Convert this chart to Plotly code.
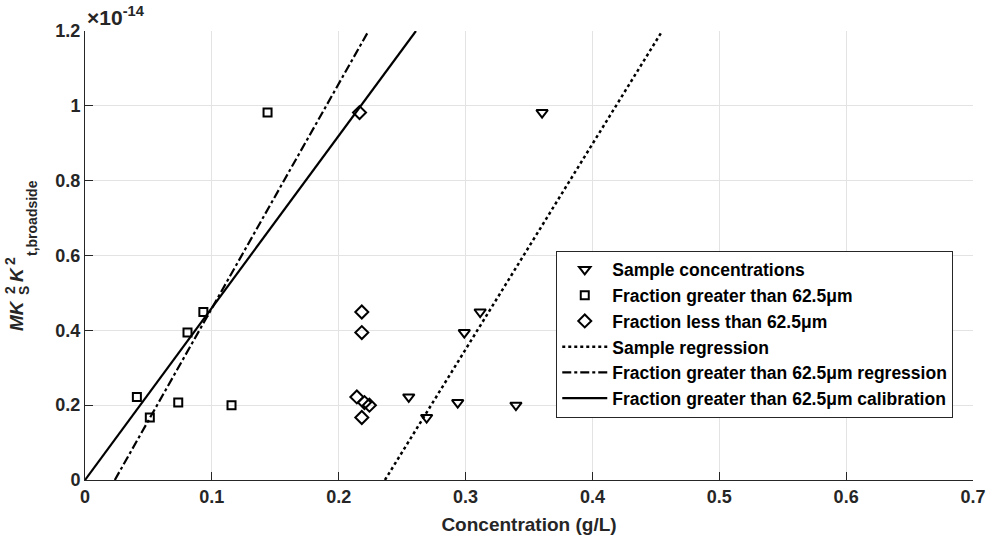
import numpy as np
import plotly.graph_objects as go

# Backscatter term M*Ks^2*Kt,broadside^2, in units of 1e-14
frac_gt_conc = [0.0409, 0.0511, 0.0735, 0.0808, 0.0933, 0.1155, 0.1439]
frac_lt_conc = [0.2143, 0.2182, 0.2203, 0.2182, 0.2182, 0.2242, 0.2164]
sample_conc = [0.2552, 0.2693, 0.2938, 0.2990, 0.3115, 0.3397, 0.3603]
mk_values = [0.222, 0.167, 0.207, 0.394, 0.449, 0.200, 0.982]
mk_values_lt = [0.222, 0.167, 0.207, 0.394, 0.449, 0.200, 0.982]
mk_values_sample = [0.222, 0.167, 0.207, 0.394, 0.449, 0.200, 0.982]

# Straight-line fits: y = slope * x + intercept (y in units of 1e-14)
fit_names = ["Sample regression",
             "Fraction greater than 62.5\u03bcm regression",
             "Fraction greater than 62.5\u03bcm calibration"]
fit_slopes = [5.49, 6.00, 4.60]
fit_intercepts = [-1.298, -0.141, 0.0]
fit_dashes = ["dot", "dashdot", "solid"]

x_ticks = [0, 0.1, 0.2, 0.3, 0.4, 0.5, 0.6, 0.7]
y_ticks = [0, 0.2, 0.4, 0.6, 0.8, 1.0, 1.2]
y_tick_text = ["0", "0.2", "0.4", "0.6", "0.8", "1", "1.2"]
X_RANGE = [0, 0.7]
Y_RANGE = [0, 1.2]

FONT = "Liberation Sans, Arial, sans-serif"
INK = "#000000"
AXIS_INK = "#262626"

fig = go.Figure()

marker_line = dict(color=INK, width=2)
fig.add_trace(go.Scatter(
    x=sample_conc, y=mk_values_sample, mode="markers", name="Sample concentrations",
    marker=dict(symbol="triangle-down-open", size=10, color=INK, line=marker_line)))
fig.add_trace(go.Scatter(
    x=frac_gt_conc, y=mk_values, mode="markers", name="Fraction greater than 62.5\u03bcm",
    marker=dict(symbol="square-open", size=8, color=INK, line=marker_line)))
fig.add_trace(go.Scatter(
    x=frac_lt_conc, y=mk_values_lt, mode="markers", name="Fraction less than 62.5\u03bcm",
    marker=dict(symbol="diamond-open", size=10, color=INK, line=marker_line)))

# each fit line is drawn where it lies inside the plotted window
for name, m, b, dash in zip(fit_names, fit_slopes, fit_intercepts, fit_dashes):
    x0 = max(X_RANGE[0], (Y_RANGE[0] - b) / m)
    x1 = min(X_RANGE[1], (Y_RANGE[1] - b) / m)
    xs = np.array([x0, x1])
    fig.add_trace(go.Scatter(
        x=xs, y=m * xs + b, mode="lines", name=name,
        line=dict(color=INK, width=2.5 if dash == "dot" else 2.2, dash=dash)))

axis_common = dict(
    showgrid=True, gridcolor="#e3e3e3", gridwidth=1,
    showline=True, linecolor=AXIS_INK, linewidth=1,
    ticks="inside", ticklen=8, tickcolor=AXIS_INK,
    zeroline=False, mirror=False,
    tickfont=dict(family=FONT, size=18, color=AXIS_INK, weight="bold"),
)

fig.update_layout(
    width=998, height=544,
    margin=dict(l=85, r=18, t=31, b=63),
    paper_bgcolor="white", plot_bgcolor="white",
    font=dict(family=FONT, color=AXIS_INK),
    showlegend=True,
    legend=dict(
        x=0.5307, y=0.511, xanchor="left", yanchor="top",
        bgcolor="white", bordercolor=AXIS_INK, borderwidth=1,
        font=dict(family=FONT, size=17.5, color="#000000", weight="bold"),
        tracegroupgap=0, itemwidth=45,
    ),
    xaxis=dict(
        range=X_RANGE, tickvals=x_ticks, ticktext=[f"{v:g}" for v in x_ticks],
        title=dict(text="Concentration (g/L)", standoff=12,
                   font=dict(family=FONT, size=19, color=AXIS_INK, weight="bold")),
        **axis_common),
    yaxis=dict(range=Y_RANGE, tickvals=y_ticks, ticktext=y_tick_text, **axis_common),
)

# y-axis title with stacked super/subscripts, built from rotated pieces
def label_piece(text, px_x, px_y, size, italic=False):
    fig.add_annotation(
        xref="paper", yref="paper", x=0, y=0,
        xshift=px_x - 85, yshift=481 - px_y,
        xanchor="center", yanchor="middle",
        text=f"<i>{text}</i>" if italic else text,
        textangle=-90, showarrow=False,
        font=dict(family=FONT, size=size, color=AXIS_INK, weight="bold"))

label_piece("MK", 16, 317, 19, italic=True)
label_piece("2", 10, 291, 14)
label_piece("S", 24, 292, 14)
label_piece("K", 16, 276, 19, italic=True)
label_piece("2", 10, 262, 14)
label_piece("t,broadside", 32, 219, 14)

# exponent for the y axis
fig.add_annotation(
    xref="paper", yref="paper", x=0, y=1, xshift=0, yshift=0,
    xanchor="left", yanchor="bottom", showarrow=False,
    text="\u00d710<sup>-14</sup>",
    font=dict(family=FONT, size=21, color=AXIS_INK, weight="bold"))

fig.write_html("out.html")
